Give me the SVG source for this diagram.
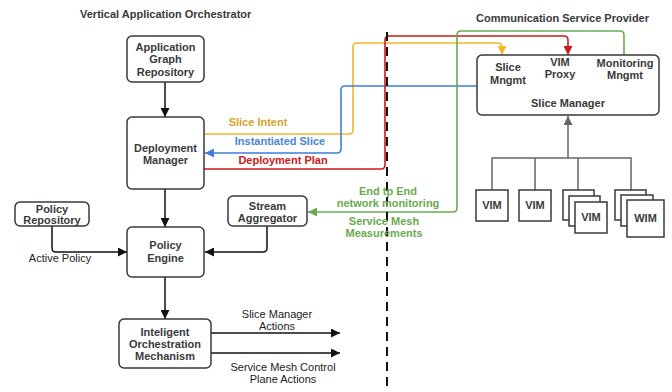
<svg xmlns="http://www.w3.org/2000/svg" width="672" height="392" viewBox="0 0 672 392">
<style>
  .box { fill: #fff; stroke: #3a3a3a; stroke-width: 1.5; }
  .sq { fill: #fff; stroke: #3a3a3a; stroke-width: 1.5; }
  .lbl { font-family: "Liberation Sans", Arial, sans-serif; font-size: 11px; font-weight: bold; fill: #3a3a3a; text-anchor: middle; }
  .reg { font-family: "Liberation Sans", Arial, sans-serif; font-size: 11px; fill: #222; text-anchor: middle; }
  .title { font-family: "Liberation Sans", Arial, sans-serif; font-size: 11px; font-weight: bold; fill: #3a3a3a; }
  .ln { fill: none; stroke: #111; stroke-width: 1.5; }
  .gray { fill: none; stroke: #666; stroke-width: 1.5; }
  .yl { fill: none; stroke: #f3b72a; stroke-width: 1.6; }
  .bl { fill: none; stroke: #3f7fd9; stroke-width: 1.6; }
  .rd { fill: none; stroke: #cc1a1a; stroke-width: 1.6; }
  .gr { fill: none; stroke: #6aaa50; stroke-width: 1.6; }
  .tyl { fill: #d4a22a; }
  .tbl { fill: #4a86d0; }
  .trd { fill: #cc1a1a; }
  .tgr { fill: #6aaa50; }
</style>
<defs>
  <marker id="ak" viewBox="0 0 10 10" refX="10" refY="5" markerWidth="9" markerHeight="9" markerUnits="userSpaceOnUse" orient="auto"><path d="M0,0 L10,5 L0,10 z" fill="#111"/></marker>
  <marker id="ag" viewBox="0 0 10 10" refX="10" refY="5" markerWidth="9" markerHeight="9" markerUnits="userSpaceOnUse" orient="auto"><path d="M0,0 L10,5 L0,10 z" fill="#666"/></marker>
  <marker id="ay" viewBox="0 0 10 10" refX="10" refY="5" markerWidth="9" markerHeight="9" markerUnits="userSpaceOnUse" orient="auto"><path d="M0,0 L10,5 L0,10 z" fill="#f3b72a"/></marker>
  <marker id="ab" viewBox="0 0 10 10" refX="10" refY="5" markerWidth="9" markerHeight="9" markerUnits="userSpaceOnUse" orient="auto"><path d="M0,0 L10,5 L0,10 z" fill="#3f7fd9"/></marker>
  <marker id="ar" viewBox="0 0 10 10" refX="10" refY="5" markerWidth="9" markerHeight="9" markerUnits="userSpaceOnUse" orient="auto"><path d="M0,0 L10,5 L0,10 z" fill="#cc1a1a"/></marker>
  <marker id="agr" viewBox="0 0 10 10" refX="10" refY="5" markerWidth="9" markerHeight="9" markerUnits="userSpaceOnUse" orient="auto"><path d="M0,0 L10,5 L0,10 z" fill="#6aaa50"/></marker>
</defs>
<rect width="672" height="392" fill="#fff"/>

<text class="title" x="80" y="18">Vertical Application Orchestrator</text>
<text class="title" x="476" y="22">Communication Service Provider</text>

<g id="connectors">
  <path class="ln" d="M165,82 V117" marker-end="url(#ak)"/>
  <path class="ln" d="M165,189 V227" marker-end="url(#ak)"/>
  <path class="ln" d="M52,226 V248 Q52,252 56,252 H127" marker-end="url(#ak)"/>
  <path class="ln" d="M267,226 V248 Q267,252 263,252 H205" marker-end="url(#ak)"/>
  <path class="ln" d="M165,277 V319" marker-end="url(#ak)"/>
  <path class="ln" d="M211,333 H340" marker-end="url(#ak)"/>
  <path class="ln" d="M211,353 H340" marker-end="url(#ak)"/>
  <path class="yl" d="M204,134 H349 Q353,134 353,130 V47 Q353,43 357,43 H498 Q502,43 502,47 V55" marker-end="url(#ay)"/>
  <path class="bl" d="M477,86 H345 Q341,86 341,90 V149 Q341,153 337,153 H205" marker-end="url(#ab)"/>
  <path class="rd" d="M204,169 H381 Q385,169 385,165 V40 Q385,36 389,36 H564 Q568,36 568,40 V55" marker-end="url(#ar)"/>
  <path class="gr" d="M624,55 V35 Q624,31 620,31 H461 Q457,31 457,35 V208 Q457,212 453,212 H308" marker-end="url(#agr)"/>
  <path class="gray" d="M568,158 V116" marker-end="url(#ag)"/>
  <path class="gray" d="M492,190 V158 H631 V190 M535,158 V190 M578,158 V190"/>
  <path d="M387,32 V392" stroke="#111" stroke-width="2" stroke-dasharray="9,6" fill="none"/>
</g>

<text class="lbl tyl" x="258" y="126">Slice Intent</text>
<text class="lbl tbl" x="280" y="145">Instantiated Slice</text>
<text class="lbl trd" x="283" y="164">Deployment Plan</text>
<text class="lbl tgr" x="388" y="195">End tp End</text>
<text class="lbl tgr" x="388" y="207">network monitoring</text>
<text class="lbl tgr" x="384" y="225">Service Mesh</text>
<text class="lbl tgr" x="384" y="237">Measurements</text>
<text class="reg" x="60" y="262">Active Policy</text>
<text class="reg" x="277" y="318">Slice Manager</text>
<text class="reg" x="277" y="330">Actions</text>
<text class="reg" x="283" y="371">Service Mesh Control</text>
<text class="reg" x="283" y="383">Plane Actions</text>

<g id="app-graph-repo">
  <rect class="box" x="127" y="36" width="77" height="46" rx="5"/>
  <text class="lbl" x="165.5" y="51">Application</text>
  <text class="lbl" x="165.5" y="63">Graph</text>
  <text class="lbl" x="165.5" y="76">Repository</text>
</g>
<g id="deployment-manager">
  <rect class="box" x="127" y="117" width="77" height="72" rx="5"/>
  <text class="lbl" x="165.5" y="152">Deployment</text>
  <text class="lbl" x="165.5" y="164">Manager</text>
</g>
<g id="policy-repository">
  <rect class="box" x="15" y="202" width="74" height="24" rx="5"/>
  <text class="lbl" x="52" y="213">Policy</text>
  <text class="lbl" x="52" y="224">Repository</text>
</g>
<g id="stream-aggregator">
  <rect class="box" x="228" y="196" width="79" height="30" rx="5"/>
  <text class="lbl" x="267.5" y="210">Stream</text>
  <text class="lbl" x="267.5" y="222">Aggregator</text>
</g>
<g id="policy-engine">
  <rect class="box" x="127" y="227" width="77" height="50" rx="5"/>
  <text class="lbl" x="165.5" y="249">Policy</text>
  <text class="lbl" x="165.5" y="262">Engine</text>
</g>
<g id="iom">
  <rect class="box" x="119" y="319" width="92" height="49" rx="5"/>
  <text class="lbl" x="165" y="336">Inteligent</text>
  <text class="lbl" x="165" y="348">Orchestration</text>
  <text class="lbl" x="165" y="360">Mechanism</text>
</g>
<g id="slice-manager">
  <rect class="box" x="477" y="55" width="182" height="60" rx="5"/>
  <text class="lbl" x="508" y="71">Slice</text>
  <text class="lbl" x="508" y="84">Mngmt</text>
  <text class="lbl" x="560" y="66">VIM</text>
  <text class="lbl" x="560" y="78">Proxy</text>
  <text class="lbl" x="625" y="67">Monitoring</text>
  <text class="lbl" x="625" y="79">Mngmt</text>
  <text class="lbl" x="568" y="107">Slice Manager</text>
</g>
<g id="vim1">
  <rect class="sq" x="476" y="190" width="32" height="31"/>
  <text class="lbl" x="492" y="209">VIM</text>
</g>
<g id="vim2">
  <rect class="sq" x="519" y="190" width="32" height="31"/>
  <text class="lbl" x="535" y="209">VIM</text>
</g>
<g id="vim-stack">
  <rect class="sq" x="563" y="190" width="31" height="30"/>
  <rect class="sq" x="569" y="196" width="31" height="30"/>
  <rect class="sq" x="575" y="202" width="32" height="31"/>
  <text class="lbl" x="591" y="221">VIM</text>
</g>
<g id="wim-stack">
  <rect class="sq" x="615" y="190" width="31" height="30"/>
  <rect class="sq" x="621" y="195" width="32" height="31"/>
  <rect class="sq" x="627" y="200" width="37" height="37"/>
  <text class="lbl" x="645.5" y="222">WIM</text>
</g>
</svg>
